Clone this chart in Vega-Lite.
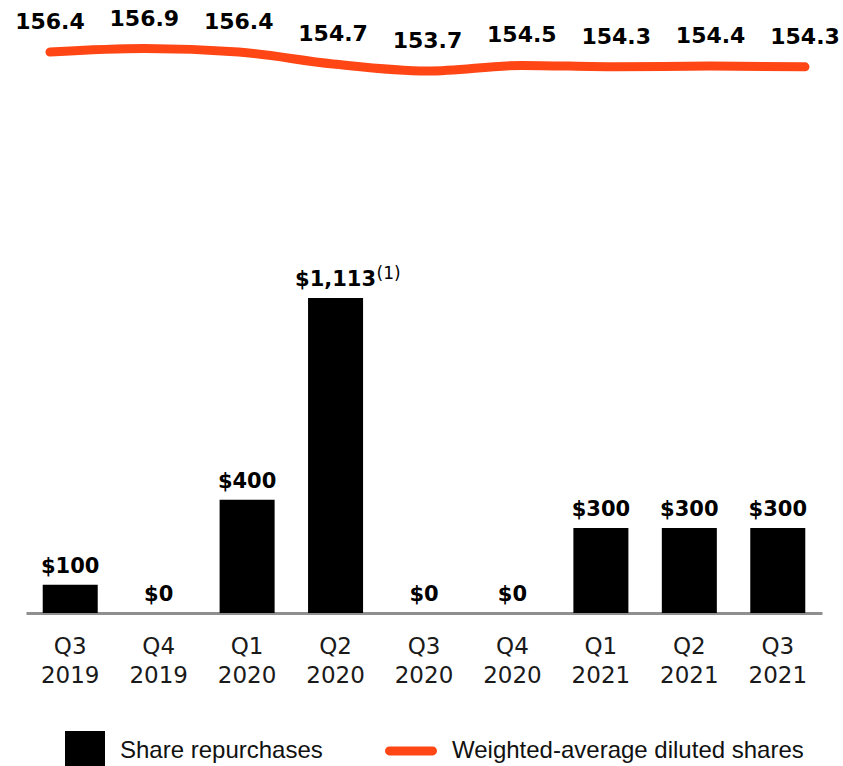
{
  "$schema": "https://vega.github.io/schema/vega-lite/v6.json",
  "width": 796,
  "height": 613,
  "autosize": {"type": "none"},
  "padding": {"left": 26, "top": 0, "right": 21, "bottom": 153},
  "background": "white",
  "config": {"view": {"stroke": null}},
  "data": {
    "values": [
      {"q": "Q3 2019", "repurchase": 100, "shares": 156.4, "note": ""},
      {"q": "Q4 2019", "repurchase": 0, "shares": 156.9, "note": ""},
      {"q": "Q1 2020", "repurchase": 400, "shares": 156.4, "note": ""},
      {"q": "Q2 2020", "repurchase": 1113, "shares": 154.7, "note": "(1)"},
      {"q": "Q3 2020", "repurchase": 0, "shares": 153.7, "note": ""},
      {"q": "Q4 2020", "repurchase": 0, "shares": 154.5, "note": ""},
      {"q": "Q1 2021", "repurchase": 300, "shares": 154.3, "note": ""},
      {"q": "Q2 2021", "repurchase": 300, "shares": 154.4, "note": ""},
      {"q": "Q3 2021", "repurchase": 300, "shares": 154.3, "note": ""}
    ]
  },
  "layer": [
    {
      "encoding": {
        "x": {
          "field": "q",
          "type": "nominal",
          "sort": null,
          "scale": {"paddingInner": 0.378, "paddingOuter": 0.189},
          "axis": {
            "title": null,
            "labelExpr": "split(datum.value, ' ')",
            "labelFont": "DejaVu Sans",
            "labelFontSize": 23,
            "labelColor": "#1a1a1a",
            "labelLineHeight": 29,
            "labelPadding": 22,
            "labelBaseline": "top",
            "labelAngle": 0,
            "ticks": false,
            "domainColor": "#8f8f8f",
            "domainWidth": 3,
            "grid": false
          }
        },
        "y": {
          "field": "repurchase",
          "type": "quantitative",
          "scale": {"domain": [0, 2166], "nice": false},
          "axis": null
        }
      },
      "layer": [
        {
          "mark": {"type": "bar"},
          "encoding": {
            "fill": {
              "datum": "Share repurchases",
              "type": "nominal",
              "scale": {"range": ["#000000"]},
              "legend": {
                "orient": "none",
                "legendX": 39,
                "legendY": 731,
                "title": null,
                "padding": 0,
                "symbolType": "square",
                "symbolSize": 1600,
                "symbolStrokeWidth": 0,
                "labelFont": "Liberation Sans",
                "labelFontSize": 24,
                "labelColor": "#111111",
                "labelOffset": 15,
                "labelLimit": 600
              }
            }
          }
        },
        {
          "mark": {"type": "text", "font": "DejaVu Sans", "fontWeight": "bold", "fontSize": 21, "dy": -12, "baseline": "alphabetic", "color": "#000000"},
          "encoding": {
            "text": {"field": "repurchase", "type": "quantitative", "format": "$,.0f"}
          }
        },
        {
          "transform": [{"filter": "datum.note != ''"}],
          "mark": {"type": "text", "font": "DejaVu Sans", "fontSize": 17, "align": "left", "dx": 41, "dy": -19, "baseline": "alphabetic", "color": "#000000"},
          "encoding": {
            "text": {"field": "note", "type": "nominal"}
          }
        }
      ]
    },
    {
      "encoding": {
        "x": {
          "field": "q",
          "type": "nominal",
          "sort": null,
          "scale": {"type": "point", "padding": 0.217, "align": 0.585},
          "axis": null
        },
        "y": {
          "field": "shares",
          "type": "quantitative",
          "scale": {"domain": [76.27, 163.84], "nice": false, "zero": false},
          "axis": null
        }
      },
      "layer": [
        {
          "mark": {"type": "line", "strokeWidth": 9, "interpolate": "monotone", "strokeCap": "round"},
          "encoding": {
            "stroke": {
              "datum": "Weighted-average diluted shares",
              "type": "nominal",
              "scale": {"range": ["#ff4614"]},
              "legend": {
                "orient": "none",
                "legendX": 359,
                "legendY": 725,
                "title": null,
                "padding": 0,
                "symbolType": "M-0.83,-0.17L0.83,-0.17A0.17,0.17 0 0 1 0.83,0.17L-0.83,0.17A0.17,0.17 0 0 1 -0.83,-0.17Z",
                "symbolSize": 2704,
                "symbolStrokeWidth": 0,
                "symbolFillColor": "#ff4614",
                "labelFont": "Liberation Sans",
                "labelFontSize": 24,
                "labelColor": "#111111",
                "labelOffset": 15,
                "labelLimit": 600
              }
            }
          }
        },
        {
          "mark": {"type": "text", "font": "DejaVu Sans", "fontWeight": "bold", "fontSize": 22, "dy": -23, "baseline": "alphabetic", "color": "#000000"},
          "encoding": {
            "text": {"field": "shares", "type": "quantitative", "format": ".1f"}
          }
        }
      ]
    }
  ],
  "resolve": {"scale": {"x": "independent", "y": "independent"}}
}
